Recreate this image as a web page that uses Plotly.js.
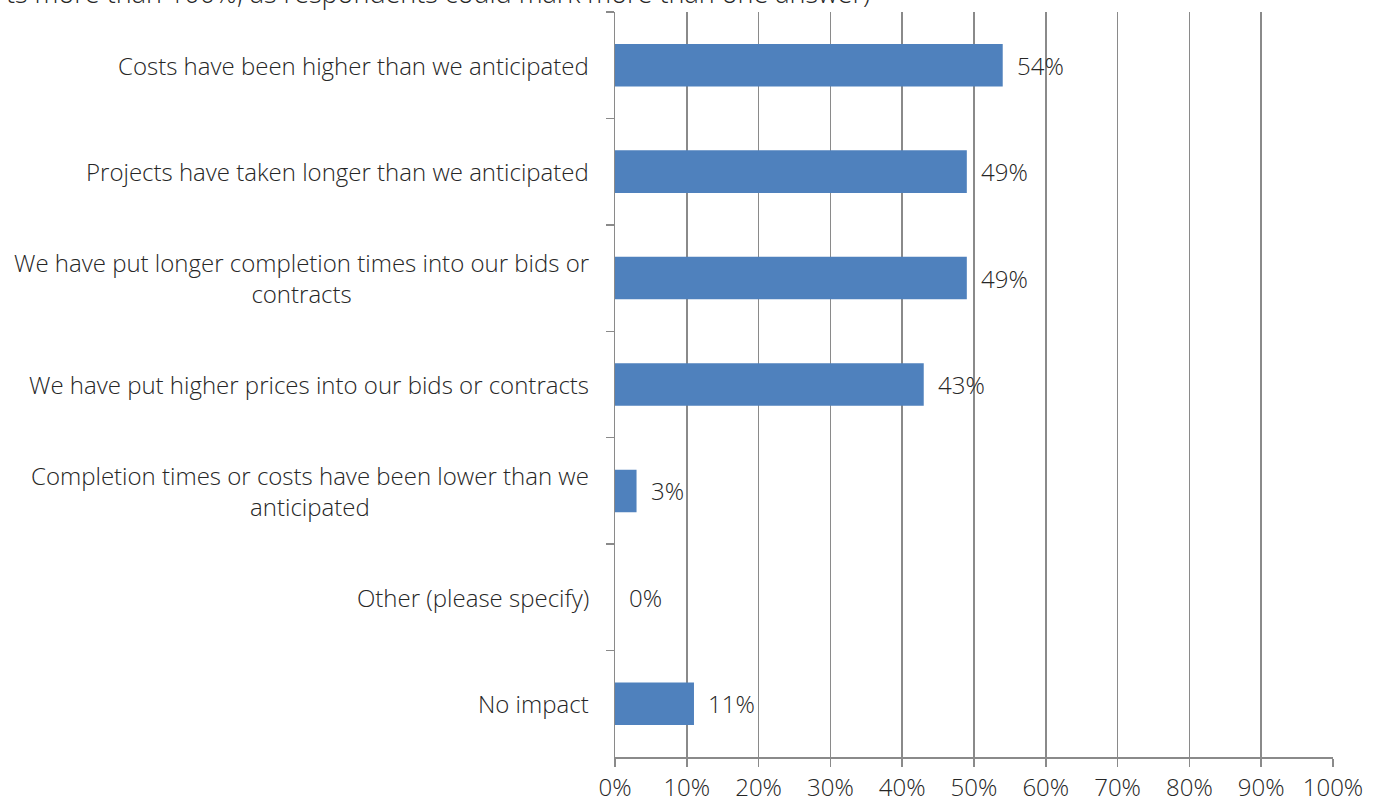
<!DOCTYPE html>
<html>
<head>
<meta charset="utf-8">
<script src="https://cdn.plot.ly/plotly-3.0.1.min.js"></script>
<style>html,body{margin:0;padding:0;background:#fff;}#chart{width:1383px;height:802px;}</style>
</head>
<body>
<div id="chart"></div>
<script>
const categories = [
  "Costs have been higher than we anticipated",
  "Projects have taken longer than we anticipated",
  "We have put longer completion times into our bids or<br>contracts",
  "We have put higher prices into our bids or contracts",
  "Completion times or costs have been lower than we<br>anticipated",
  "Other (please specify)",
  "No impact"
];
const values = [54, 49, 49, 43, 3, 0, 11];
const xTickValues = [0, 10, 20, 30, 40, 50, 60, 70, 80, 90, 100];
const xTickLabels = ["0%", "10%", "20%", "30%", "40%", "50%", "60%", "70%", "80%", "90%", "100%"];
const noteText = "ts more than 100%, as respondents could mark more than one answer)";

const FONT = "'Open Sans', Lato, sans-serif";
const FW = 300;
const FS = 24;
const TXT = "#262626";
const GRID = "#8a8a8a";

const trace = {
  type: "bar",
  orientation: "h",
  x: values,
  y: categories,
  marker: {color: "#4F81BD"},
  hoverinfo: "skip"
};

const annotations = [];
categories.forEach((c, i) => {
  annotations.push({
    xref: "paper", yref: "y", x: 0, y: c,
    xanchor: "right", yanchor: "middle", xshift: -24,
    text: c, showarrow: false, align: "center",
    font: {family: FONT, size: FS, color: TXT, weight: FW}
  });
  annotations.push({
    xref: "x", yref: "y", x: values[i], y: c,
    xanchor: "left", yanchor: "middle", xshift: 12,
    text: values[i] + "%", showarrow: false,
    font: {family: FONT, size: FS, color: TXT, weight: FW}
  });
});
annotations.push({
  xref: "paper", yref: "paper", x: 0.3565, y: 1,
  xanchor: "right", yanchor: "bottom", yshift: 0, borderpad: 0,
  text: noteText, showarrow: false,
  font: {family: FONT, size: 27, color: TXT, weight: FW}
});

const layout = {
  width: 1383, height: 802,
  margin: {l: 615, r: 50, t: 12, b: 45},
  paper_bgcolor: "#fff", plot_bgcolor: "#fff",
  bargap: 0.6,
  showlegend: false,
  xaxis: {
    range: [0, 100],
    tickvals: xTickValues, ticktext: xTickLabels,
    showgrid: true, gridcolor: GRID, gridwidth: 1.5,
    zeroline: false,
    showline: true, linecolor: GRID, linewidth: 1.5,
    ticks: "outside", ticklen: 8, tickcolor: GRID, tickwidth: 1.5,
    ticklabelstandoff: 1,
    tickfont: {family: FONT, size: FS, color: TXT, weight: FW},
    fixedrange: true
  },
  yaxis: {
    autorange: "reversed",
    showticklabels: false,
    showgrid: false, zeroline: false,
    showline: true, linecolor: GRID, linewidth: 1.5,
    ticks: "outside", ticklen: 8, tickcolor: GRID, tickwidth: 1.5,
    tickson: "boundaries",
    fixedrange: true
  },
  annotations: annotations
};

Plotly.newPlot("chart", [trace], layout, {displayModeBar: false, staticPlot: true});
</script>
</body>
</html>
